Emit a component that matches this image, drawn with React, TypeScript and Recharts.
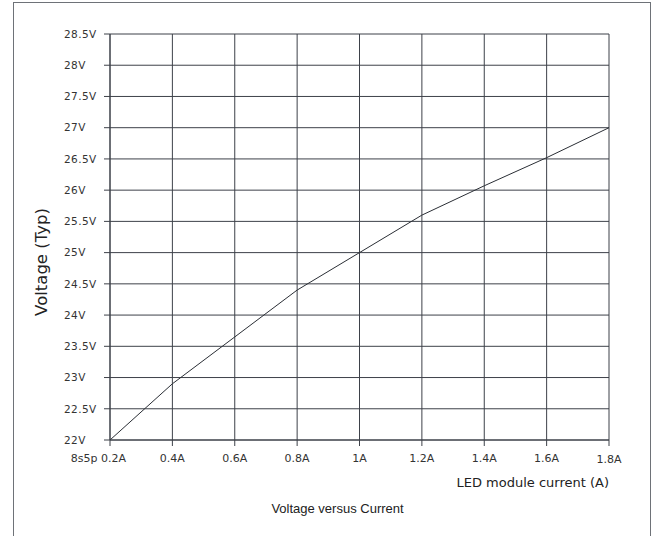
import React from 'react';
import { LineChart, Line, XAxis, YAxis, CartesianGrid, Customized } from 'recharts';

// Forward current steps (A) and typical module voltage (V)
const currents = [0.2, 0.4, 0.6, 0.8, 1.0, 1.2, 1.4, 1.6, 1.8];
const voltages = [22.0, 22.9, 23.65, 24.4, 25.0, 25.6, 26.07, 26.52, 27.0];
const voltageTicks = [22, 22.5, 23, 23.5, 24, 24.5, 25, 25.5, 26, 26.5, 27, 27.5, 28, 28.5];
const configLabel = '8s5p';
const xTitle = 'LED module current (A)';
const yTitle = 'Voltage (Typ)';
const caption = 'Voltage versus Current';

const data = currents.map((c, i) => ({ current: c, voltage: voltages[i] }));

const W = 656;
const H = 536;
const LINE = '#3d4149';
const TICK_FONT = '"DejaVu Sans", Verdana, sans-serif';

const YTick = (props: any) => {
  const { y, payload } = props;
  return (
    <text x={64} y={y} dy="0.36em" textAnchor="start" fontFamily={TICK_FONT} fontSize={10.5} letterSpacing={0.4} fill="#333">
      {`${payload.value}V`}
    </text>
  );
};

const XTick = (props: any) => {
  const { x, payload, index } = props;
  const label = `${payload.value}A`;
  const baseY = 462;
  if (index === 0) {
    return (
      <text x={x + 16} y={baseY} textAnchor="end" fontFamily={TICK_FONT} fontSize={11} fill="#333">
        {`${configLabel} ${label}`}
      </text>
    );
  }
  return (
    <text x={x} y={index === currents.length - 1 ? baseY + 1 : baseY} textAnchor="middle" fontFamily={TICK_FONT} fontSize={11} fill="#333">
      {label}
    </text>
  );
};

const Titles = (props: any) => {
  const off = props.offset || {};
  const left = off.left ?? 110;
  const top = off.top ?? 34;
  const w = off.width ?? 499;
  const h = off.height ?? 406;
  return (
    <g>
      <text
        x={left + w}
        y={top + h + 47}
        textAnchor="end"
        fontFamily={TICK_FONT}
        fontSize={13}
        fill="#222"
      >
        {xTitle}
      </text>
      <text
        transform={`translate(41.5, ${top + h / 2 + 25}) rotate(-90)`}
        textAnchor="middle"
        dominantBaseline="central"
        fontFamily={TICK_FONT}
        fontSize={16.5}
        fill="#222"
      >
        {yTitle}
      </text>
      <text
        x={337.5}
        y={513}
        textAnchor="middle"
        fontFamily='"Liberation Sans", Arial, sans-serif'
        fontSize={13}
        fill="#222"
      >
        {caption}
      </text>
    </g>
  );
};

export default function App() {
  return (
    <div style={{ position: 'absolute', left: 0, top: 0, width: W, height: H, overflow: 'hidden', background: '#fff' }}>
      <div
        style={{
          position: 'absolute',
          left: 13,
          top: 2,
          width: 636,
          height: 600,
          border: '1px solid #6e7278',
        }}
      />
      <div style={{ position: 'absolute', left: 0, top: 0 }}>
        <LineChart width={W} height={H} data={data} margin={{ top: 34, right: 47, bottom: 66, left: 60 }}>
          <CartesianGrid stroke={LINE} strokeWidth={1} />
          <XAxis
            dataKey="current"
            type="number"
            domain={[0.2, 1.8]}
            ticks={currents}
            interval={0}
            height={30}
            tickSize={6}
            tickLine={{ stroke: LINE }}
            axisLine={{ stroke: LINE }}
            tick={<XTick />}
          />
          <YAxis
            type="number"
            domain={[22, 28.5]}
            ticks={voltageTicks}
            interval={0}
            width={50}
            tickSize={6}
            tickLine={{ stroke: LINE }}
            axisLine={{ stroke: LINE }}
            tick={<YTick />}
          />
          <Line
            dataKey="voltage"
            type="linear"
            stroke="#2a2e35"
            strokeWidth={1}
            dot={false}
            isAnimationActive={false}
          />
          <Customized component={Titles} />
        </LineChart>
      </div>
    </div>
  );
}
